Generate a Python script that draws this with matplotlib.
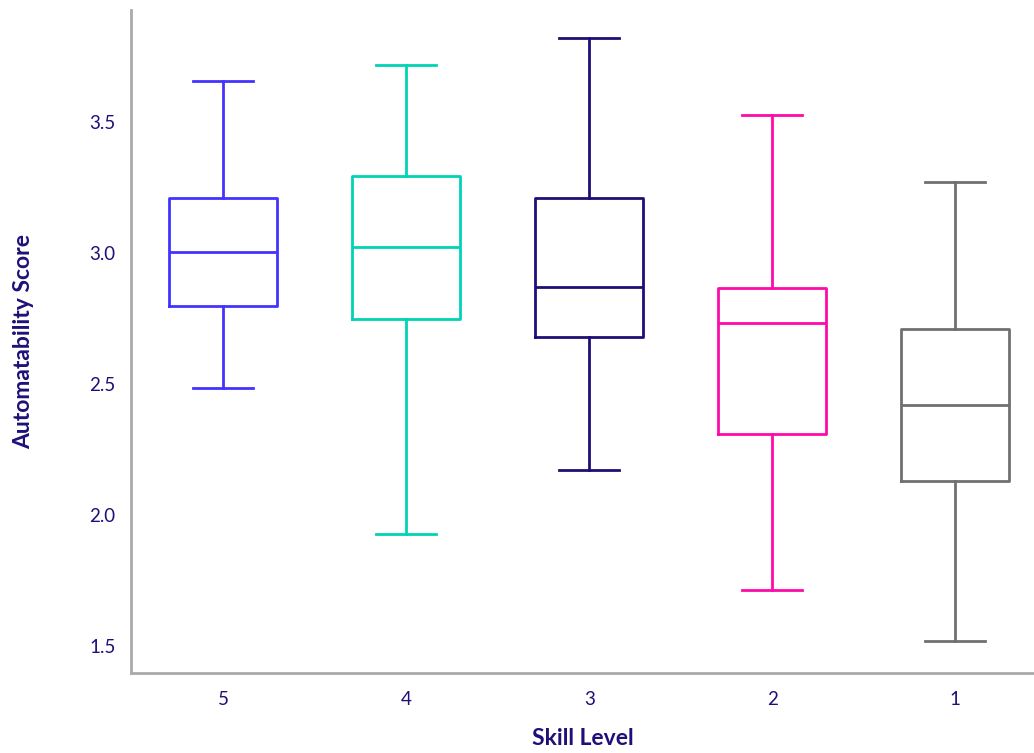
import matplotlib
matplotlib.use("Agg")
import matplotlib.pyplot as plt

# box stats per skill level
levels = ["5", "4", "3", "2", "1"]
whislo = [2.485, 1.927, 2.172, 1.714, 1.519]
q1 = [2.798, 2.748, 2.679, 2.309, 2.130]
median = [3.004, 3.023, 2.870, 2.733, 2.420]
q3 = [3.210, 3.294, 3.210, 2.866, 2.710]
whishi = [3.656, 3.718, 3.821, 3.527, 3.271]
colors = ["#4433ff", "#00d4b4", "#1e0f78", "#ff0aa8", "#707070"]

text_color = "#1e1078"
plt.rcParams["font.family"] = ["Lato", "DejaVu Sans"]

fig = plt.figure(figsize=(10.34, 7.53), dpi=100)
ax = fig.add_axes([0.1267, 0.1062, 0.8733, 0.8805])

stats = []
for i, lev in enumerate(levels):
    stats.append({"label": lev, "whislo": whislo[i], "q1": q1[i], "med": median[i],
                  "q3": q3[i], "whishi": whishi[i], "fliers": []})

positions = list(range(len(levels)))
for pos, st, c in zip(positions, stats, colors):
    ax.bxp([st], positions=[pos], widths=0.59, showfliers=False,
           capwidths=0.33,
           boxprops=dict(color=c, linewidth=2),
           whiskerprops=dict(color=c, linewidth=2),
           capprops=dict(color=c, linewidth=2),
           medianprops=dict(color=c, linewidth=2))

ax.set_xlim(-0.503, 4.43)
ax.set_ylim(1.397, 3.927)
ax.set_yticks([1.5, 2.0, 2.5, 3.0, 3.5])
ax.set_xticks(positions)
ax.set_xticklabels(levels)

for side in ["top", "right"]:
    ax.spines[side].set_visible(False)
for side in ["left", "bottom"]:
    ax.spines[side].set_color("#aaaaaa")
    ax.spines[side].set_linewidth(2)

ax.tick_params(length=0, labelsize=13.5, colors=text_color)
ax.tick_params(axis="x", pad=13)
ax.tick_params(axis="y", pad=11)

ax.set_xlabel("Skill Level", fontsize=16.5, fontweight="bold", color=text_color)
ax.xaxis.set_label_coords(0.5, -0.083)
ax.set_ylabel("Automatability Score", fontsize=16.5, fontweight="bold", color=text_color, labelpad=40)

fig.savefig("out.png", dpi=100)
